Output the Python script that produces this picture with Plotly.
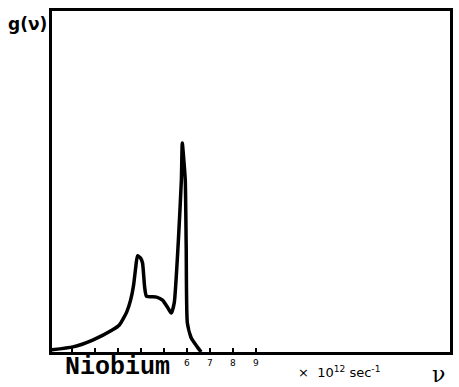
import plotly.graph_objects as go

# Frequency spectrum of niobium, g(nu) vs nu (units of 10^12 sec^-1)
freq = [0.09, 1.04, 1.90, 2.77, 3.07, 3.38, 3.55, 3.68, 3.77, 3.85, 3.98, 4.07,
        4.16, 4.24, 4.68, 4.94, 5.15, 5.32, 5.45, 5.63, 5.76, 5.80, 5.87,
        5.93, 5.97, 6.02, 6.19, 6.45, 6.62]
g_nu = [0.06, 0.15, 0.35, 0.65, 0.80, 1.17, 1.52, 1.96, 2.46, 2.82, 2.76, 2.61,
        1.91, 1.64, 1.61, 1.52, 1.32, 1.14, 1.44, 3.28, 5.04, 6.13, 5.60,
        5.04, 3.08, 0.85, 0.41, 0.15, 0.0]

labelled_ticks = [6, 7, 8, 9]
tick_text = ["6", "7", "8", "9"]
unlabelled_ticks = [1, 2, 3, 4, 5]

fig = go.Figure()
fig.add_trace(go.Scatter(
    x=freq, y=g_nu, mode="lines",
    line=dict(color="black", width=3.5, shape="spline", smoothing=0.5),
    hoverinfo="skip", showlegend=False,
))

fig.update_xaxes(
    range=[0.13, 17.45], showgrid=False, zeroline=False,
    showline=True, mirror=True, linecolor="black", linewidth=2.5,
    ticks="inside", ticklen=4, tickwidth=2, tickcolor="black",
    tickvals=labelled_ticks, ticktext=tick_text,
    tickfont=dict(family="DejaVu Sans", size=9, color="black"),
    minor=dict(tickvals=unlabelled_ticks, ticks="inside", ticklen=4,
               tickwidth=2, tickcolor="black", showgrid=False),
)
fig.update_yaxes(
    range=[0, 10], showgrid=False, zeroline=False,
    showline=True, mirror=True, linecolor="black", linewidth=2.5,
    showticklabels=False, ticks="",
)

labels = [
    ("<b>Niobium</b>", 0.165, -0.044, "Liberation Mono", 25),
    ("<b>g(ν)</b>", -0.062, 0.962, "DejaVu Sans", 17),
    ("×  10<sup>12</sup> sec<sup>-1</sup>", 0.722, -0.059, "DejaVu Sans", 13),
    ("ν", 0.972, -0.067, "DejaVu Serif", 22),
]
for text, x, y, family, size in labels:
    fig.add_annotation(text=text, xref="paper", yref="paper", x=x, y=y,
                       xanchor="center", yanchor="middle", showarrow=False,
                       font=dict(family=family, size=size, color="black"))

fig.update_layout(
    width=459, height=387,
    margin=dict(l=52, r=6, t=11, b=35),
    plot_bgcolor="white", paper_bgcolor="white",
)

fig.write_html("out.html")
